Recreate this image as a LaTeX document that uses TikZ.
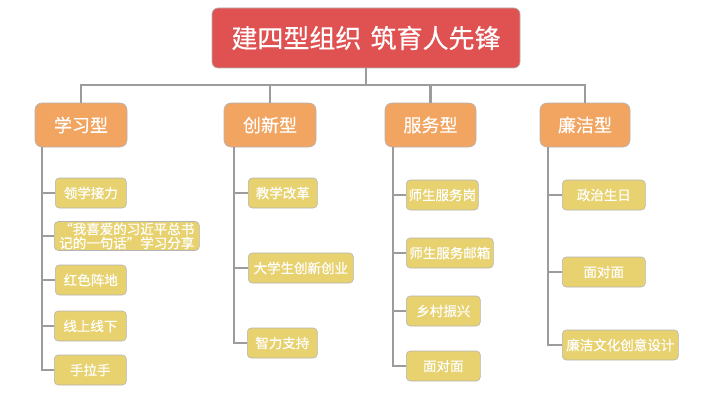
\documentclass[tikz,border=0pt]{standalone}
\usepackage{fontspec}
\setmainfont{Noto Sans CJK SC}[FakeBold=0.4]
\definecolor{rootred}{HTML}{E05252}
\definecolor{catorange}{HTML}{F2A461}
\definecolor{leafyellow}{HTML}{E8D270}
\definecolor{edgegray}{HTML}{B4B4B4}
\definecolor{linegray}{HTML}{9C9C9C}
\begin{document}
\begin{tikzpicture}[x=1pt,y=-1pt,
  rootbox/.style={draw=edgegray, line width=0.6pt, fill=rootred, rounded corners=6pt, text=white,
    minimum width=308, minimum height=60, inner sep=0pt,
    font=\fontsize{26}{30}\selectfont},
  catbox/.style={draw=edgegray, line width=0.6pt, fill=catorange, rounded corners=7pt, text=white,
    minimum height=44, inner sep=0pt, font=\fontsize{18}{22}\selectfont},
  leaf/.style={draw=edgegray, line width=0.6pt, fill=leafyellow, rounded corners=4pt, text=white,
    minimum height=30, inner sep=1pt, anchor=west, align=center,
    font=\fontsize{13.5}{14}\selectfont},
  conn/.style={draw=linegray, line width=2.9pt}
]
\useasboundingbox (0,0) rectangle (720,396);
\fill[white] (0,0) rectangle (720,396);

\node[rootbox] (root) at (366,38) {建四型组织\hspace{0.35em}筑育人先锋};

\node[catbox, minimum width=92] (c1) at (81,125) {学习型};
\node[catbox, minimum width=92] (c2) at (270,125) {创新型};
\node[catbox, minimum width=91] (c3) at (430.5,125) {服务型};
\node[catbox, minimum width=90] (c4) at (585,125) {廉洁型};

\coordinate (bus) at (0,85);
\coordinate (s1) at (42,0);
\coordinate (s2) at (234,0);
\coordinate (s3) at (393,0);
\coordinate (s4) at (548,0);

% leaves
\node[leaf, minimum width=71] (a1) at (55,193) {领学接力};
\node[leaf, minimum width=145, minimum height=29] (a2) at (54,236) {“我喜爱的习近平总书\\记的一句话”学习分享};
\node[leaf, minimum width=71] (a3) at (55,280) {红色阵地};
\node[leaf, minimum width=72] (a4) at (54,326) {线上线下};
\node[leaf, minimum width=72] (a5) at (54,370) {手拉手};

\node[leaf, minimum width=69] (b1) at (248,193) {教学改革};
\node[leaf, minimum width=105] (b2) at (248,268) {大学生创新创业};
\node[leaf, minimum width=70] (b3) at (247,343) {智力支持};

\node[leaf, minimum width=72] (d1) at (406,195) {师生服务岗};
\node[leaf, minimum width=87] (d2) at (406,253) {师生服务邮箱};
\node[leaf, minimum width=74] (d3) at (406,311) {乡村振兴};
\node[leaf, minimum width=74] (d4) at (406,366) {面对面};

\node[leaf, minimum width=83] (e1) at (562,195) {政治生日};
\node[leaf, minimum width=83] (e2) at (562,272) {面对面};
\node[leaf, minimum width=116] (e3) at (562,345) {廉洁文化创意设计};

% top connectors
\draw[conn] (root.south) -- (root.south |- bus);
\draw[conn] (c1.north) -- (c1.north |- bus) -- (c4.north |- bus) -- (c4.north);
\draw[conn] (c2.north) -- (c2.north |- bus);
\draw[conn] (c3.north) -- (c3.north |- bus);

% spines
\draw[conn] (c1.south -| s1) |- (a5.west);
\foreach \n in {a1,a2,a3,a4} \draw[conn] (\n.west -| s1) -- (\n.west);
\draw[conn] (c2.south -| s2) |- (b3.west);
\foreach \n in {b1,b2} \draw[conn] (\n.west -| s2) -- (\n.west);
\draw[conn] (c3.south -| s3) |- (d4.west);
\foreach \n in {d1,d2,d3} \draw[conn] (\n.west -| s3) -- (\n.west);
\draw[conn] (c4.south -| s4) |- (e3.west);
\foreach \n in {e1,e2} \draw[conn] (\n.west -| s4) -- (\n.west);
\end{tikzpicture}
\end{document}
